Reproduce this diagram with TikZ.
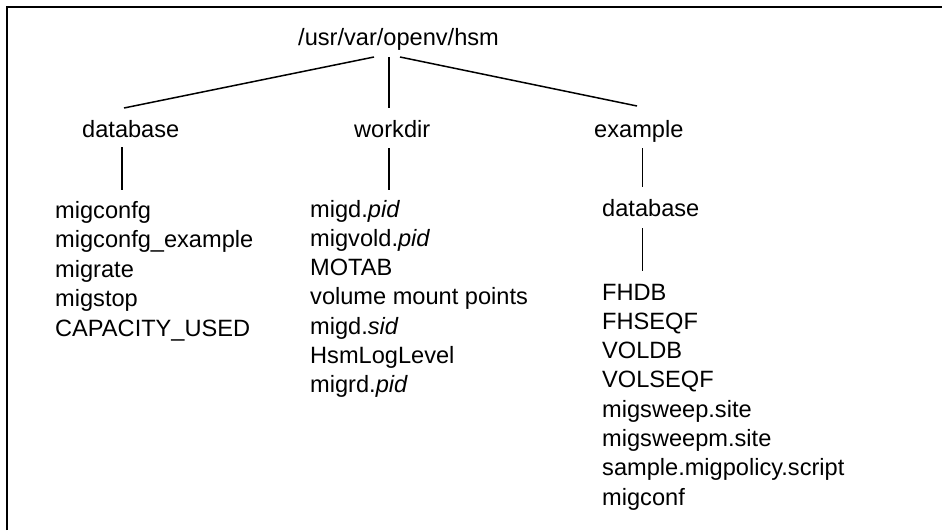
\documentclass[tikz,border=0pt]{standalone}
\usepackage{fontspec}
\setmainfont{Liberation Sans}
\begin{document}
\begin{tikzpicture}[x=1pt,y=-1pt,
  lbl/.style={anchor=base west, inner sep=0pt, font=\fontsize{23.6}{29}\selectfont},
  conn/.style={line width=1.5pt},
  frame/.style={line width=2pt, line join=miter}]
\useasboundingbox (0,0) rectangle (942,530);
\draw[frame] (7,530) -- (7,7) -- (942,7);
% top level
\node[lbl] (root) at (298,45) {/usr/var/openv/hsm};
\node[lbl] (db) at (82,137) {database};
\node[lbl] (wd) at (354,137) {workdir};
\node[lbl] (ex) at (594,137) {example};
\node[lbl] (exdb) at (602,216) {database};
% connector end points
\coordinate (rl) at (374,57);
\coordinate (rm) at (389,57);
\coordinate (rr) at (400,57);
\coordinate (dbt) at (124,108);
\coordinate (wdt) at (389,108);
\coordinate (ext) at (637,106);
\coordinate (dbb) at (122,147);
\coordinate (dbl) at (122,190);
\coordinate (wdb) at (389,148);
\coordinate (wdl) at (389,190);
\coordinate (exb) at (642.7,148);
\coordinate (exl) at (642.7,187);
\coordinate (exdbb) at (642.7,228);
\coordinate (exdbl) at (642.7,271);
\draw[conn] (rl) -- (dbt);
\draw[conn] (rm) -- (wdt);
\draw[conn] (rr) -- (ext);
\draw[conn] (dbb) -- (dbl);
\draw[conn] (wdb) -- (wdl);
\draw[conn] (exb) -- (exl);
\draw[conn] (exdbb) -- (exdbl);
% column 1
\foreach \t [count=\i] in {migconfg, migconfg\_example, migrate, migstop, CAPACITY\_USED}
  \node[lbl] (a\i) at (55,{218+(\i-1)*29.5}) {\t};
% column 2
\foreach \t [count=\i] in {migd.\textit{pid}, migvold.\textit{pid}, MOTAB, volume mount points, migd.\textit{sid}, HsmLogLevel, migrd.\textit{pid}}
  \node[lbl] (b\i) at (310,{217+(\i-1)*29.3}) {\t};
% column 3
\foreach \t [count=\i] in {FHDB, FHSEQF, VOLDB, VOLSEQF, migsweep.site, migsweepm.site, sample.migpolicy.script, migconf}
  \node[lbl] (c\i) at (602,{300+(\i-1)*29.3}) {\t};
\end{tikzpicture}
\end{document}
